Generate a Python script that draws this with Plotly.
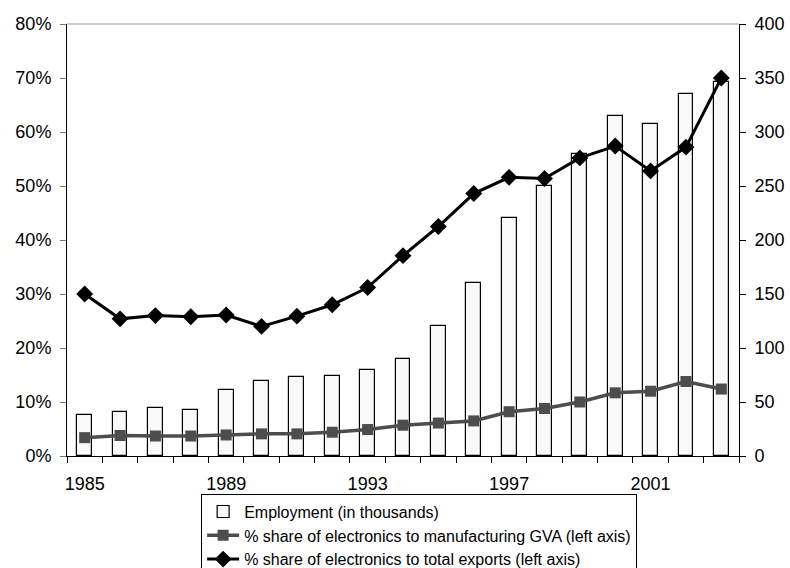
import plotly.graph_objects as go

# Years on the category axis
years = list(range(1985, 2004))

# Employment in electronics (thousands) - right axis
employment = [38, 41, 44, 43, 61, 69, 73, 74, 80, 90, 120, 160, 220, 250, 280, 315, 307, 335, 346]

# % share of electronics to manufacturing GVA - left axis
gva_share = [3.4, 3.8, 3.7, 3.7, 3.9, 4.1, 4.1, 4.4, 4.9, 5.7, 6.1, 6.5, 8.2, 8.8, 10.0, 11.7, 12.0, 13.8, 12.4]

# % share of electronics to total exports - left axis
export_share = [30.0, 25.4, 26.0, 25.8, 26.1, 24.0, 25.9, 28.0, 31.2, 37.1, 42.5, 48.6, 51.6, 51.4, 55.2, 57.4, 52.8, 57.2, 70.0]

# Labelled years along the bottom
year_labels = [1985, 1989, 1993, 1997, 2001]

FONT = "Liberation Sans, Arial, sans-serif"

fig = go.Figure()

# Bars live on the base y axis (drawn underneath), lines on the overlaying axis
fig.add_trace(go.Bar(
    x=years, y=employment, name="Employment (in thousands)",
    width=0.42, yaxis="y",
    marker=dict(color="#f9f9f9", line=dict(color="black", width=1.2)),
))
fig.add_trace(go.Scatter(
    x=years, y=gva_share, yaxis="y2", mode="lines+markers",
    name="% share of electronics to manufacturing GVA (left axis)",
    line=dict(color="#4d4d4d", width=3.5),
    marker=dict(symbol="square", size=11, color="#4d4d4d"),
))
fig.add_trace(go.Scatter(
    x=years, y=export_share, yaxis="y2", mode="lines+markers",
    name="% share of electronics to total exports (left axis)",
    line=dict(color="black", width=3),
    marker=dict(symbol="diamond", size=13, color="black"),
))

fig.update_layout(
    width=790, height=568,
    margin=dict(l=67, r=51, t=24, b=112),
    paper_bgcolor="white", plot_bgcolor="white",
    font=dict(family=FONT, size=18, color="black"),
    showlegend=True,
    bargap=0,
    xaxis=dict(
        range=[1984.5, 2003.5], automargin=False,
        tickvals=year_labels, ticktext=[str(y) for y in year_labels],
        ticks="", showgrid=False, zeroline=False,
        showline=True, linecolor="black", linewidth=1,
        minor=dict(tick0=1984.5, dtick=1, ticks="outside", ticklen=6,
                   tickcolor="black", tickwidth=1, showgrid=False),
        tickfont=dict(size=18), ticklabelstandoff=11,
    ),
    yaxis=dict(
        side="right", range=[0, 400], dtick=50, automargin=False,
        ticks="outside", ticklen=6, tickcolor="black",
        showgrid=False, zeroline=False,
        showline=True, linecolor="black", linewidth=1,
        tickfont=dict(size=18), ticklabelstandoff=5,
    ),
    yaxis2=dict(
        side="left", overlaying="y", range=[0, 80], dtick=10, automargin=False,
        ticksuffix="%", ticks="outside", ticklen=6, tickcolor="#777777",
        showgrid=False, zeroline=False,
        showline=True, linecolor="black", linewidth=1,
        tickfont=dict(size=18), ticklabelstandoff=5,
    ),
    legend=dict(
        xref="paper", yref="container",
        x=0.524, y=0.131, xanchor="center", yanchor="top",
        bordercolor="black", borderwidth=1, bgcolor="white",
        font=dict(size=16), tracegroupgap=0,
        traceorder="normal", itemwidth=32,
    ),
    shapes=[dict(type="line", xref="paper", yref="paper", x0=0, x1=1, y0=1, y1=1,
                 line=dict(color="#999999", width=1))],
)

fig.write_html("out.html")
